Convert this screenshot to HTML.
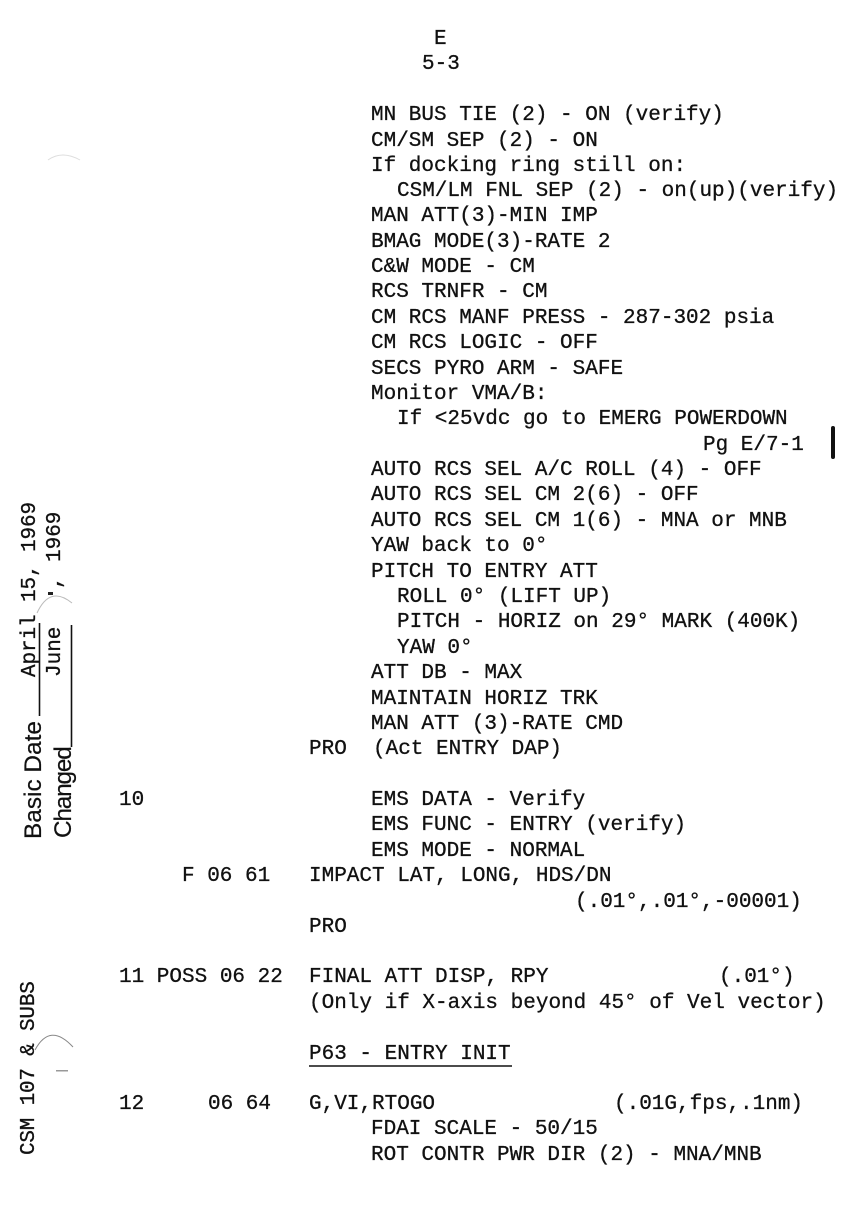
<!DOCTYPE html>
<html><head><meta charset="utf-8"><style>
html,body{margin:0;padding:0;background:#fff}
svg{display:block}
.t{font-family:"Liberation Mono",monospace;font-size:21px;letter-spacing:0;fill:#111;stroke:#111;stroke-width:.3px;white-space:pre}
.s{font-family:"Liberation Sans",sans-serif;font-size:24.4px;fill:#111;stroke:#111;stroke-width:.2px}
</style></head><body>
<svg width="844" height="1232" viewBox="0 0 844 1232" xmlns="http://www.w3.org/2000/svg">
<g class="t">
<text x="434" y="44">E</text>
<text x="422" y="69">5-3</text>
<text x="371" y="120">MN BUS TIE (2) - ON (verify)</text>
<text x="371" y="146">CM/SM SEP (2) - ON</text>
<text x="371" y="171">If docking ring still on:</text>
<text x="397" y="196">CSM/LM FNL SEP (2) - on(up)(verify)</text>
<text x="371" y="221">MAN ATT(3)-MIN IMP</text>
<text x="371" y="247">BMAG MODE(3)-RATE 2</text>
<text x="371" y="272">C&amp;W MODE - CM</text>
<text x="371" y="297">RCS TRNFR - CM</text>
<text x="371" y="323">CM RCS MANF PRESS - 287-302 psia</text>
<text x="371" y="348">CM RCS LOGIC - OFF</text>
<text x="371" y="374">SECS PYRO ARM - SAFE</text>
<text x="371" y="399">Monitor VMA/B:</text>
<text x="397" y="424">If &lt;25vdc go to EMERG POWERDOWN</text>
<text x="703" y="450">Pg E/7-1</text>
<text x="371" y="475">AUTO RCS SEL A/C ROLL (4) - OFF</text>
<text x="371" y="500">AUTO RCS SEL CM 2(6) - OFF</text>
<text x="371" y="526">AUTO RCS SEL CM 1(6) - MNA or MNB</text>
<text x="371" y="551">YAW back to 0°</text>
<text x="371" y="577">PITCH TO ENTRY ATT</text>
<text x="397" y="602">ROLL 0° (LIFT UP)</text>
<text x="397" y="627">PITCH - HORIZ on 29° MARK (400K)</text>
<text x="397" y="653">YAW 0°</text>
<text x="371" y="678">ATT DB - MAX</text>
<text x="371" y="704">MAINTAIN HORIZ TRK</text>
<text x="371" y="729">MAN ATT (3)-RATE CMD</text>
<text x="309" y="754">PRO</text>
<text x="373" y="754">(Act ENTRY DAP)</text>
<text x="119" y="805">10</text>
<text x="371" y="805">EMS DATA - Verify</text>
<text x="371" y="830">EMS FUNC - ENTRY (verify)</text>
<text x="371" y="856">EMS MODE - NORMAL</text>
<text x="182" y="881">F 06 61</text>
<text x="309" y="881">IMPACT LAT, LONG, HDS/DN</text>
<text x="575" y="907">(.01°,.01°,-00001)</text>
<text x="309" y="932">PRO</text>
<text x="119" y="982">11 POSS 06 22</text>
<text x="309" y="982">FINAL ATT DISP, RPY</text>
<text x="719" y="982">(.01°)</text>
<text x="309" y="1008">(Only if X-axis beyond 45° of Vel vector)</text>
<text x="309" y="1059">P63 - ENTRY INIT</text>
<text x="119" y="1109">12</text>
<text x="208" y="1109">06 64</text>
<text x="309" y="1109">G,VI,RTOGO</text>
<text x="614" y="1109">(.01G,fps,.1nm)</text>
<text x="371" y="1134">FDAI SCALE - 50/15</text>
<text x="371" y="1160">ROT CONTR PWR DIR (2) - MNA/MNB</text>
</g>
<line x1="309" y1="1066" x2="512" y2="1066" stroke="#111" stroke-width="1.5"/>
<rect x="831" y="426" width="4" height="33" rx="2" fill="#111"/>

<!-- left margin vertical text -->
<text class="s" transform="translate(41,839) rotate(-90)">Basic Date</text>
<text class="s" transform="translate(71,838) rotate(-90)" style="letter-spacing:-1.2px">Changed</text>
<line x1="39.5" y1="716" x2="39.5" y2="623" stroke="#111" stroke-width="1.6"/>
<line x1="71.5" y1="747" x2="71.5" y2="625" stroke="#111" stroke-width="1.6"/>
<text class="t" transform="translate(35,677) rotate(-90)" style="letter-spacing:-.1px">April 15, 1969</text>
<text class="t" transform="translate(60,677) rotate(-90)">June</text>
<text class="t" transform="translate(60,562) rotate(-90)">1969</text>
<text class="t" transform="translate(60,589) rotate(-90)">,</text>
<text class="t" transform="translate(34,1155) rotate(-90)" style="letter-spacing:-.2px">CSM 107 &amp; SUBS</text>

<!-- scan marks (hole punch arcs) -->
<path d="M37 613 Q50 585 72 603" fill="none" stroke="#bbb" stroke-width="1"/>
<path d="M35 1050 Q50 1022 73 1047" fill="none" stroke="#888" stroke-width="1"/>
<path d="M48 160 Q62 150 80 160" fill="none" stroke="#ddd" stroke-width="1"/>
<rect x="48" y="592" width="5" height="3" fill="#222"/>
<rect x="56" y="1070" width="12" height="1.5" fill="#999"/>
</svg>
</body></html>
